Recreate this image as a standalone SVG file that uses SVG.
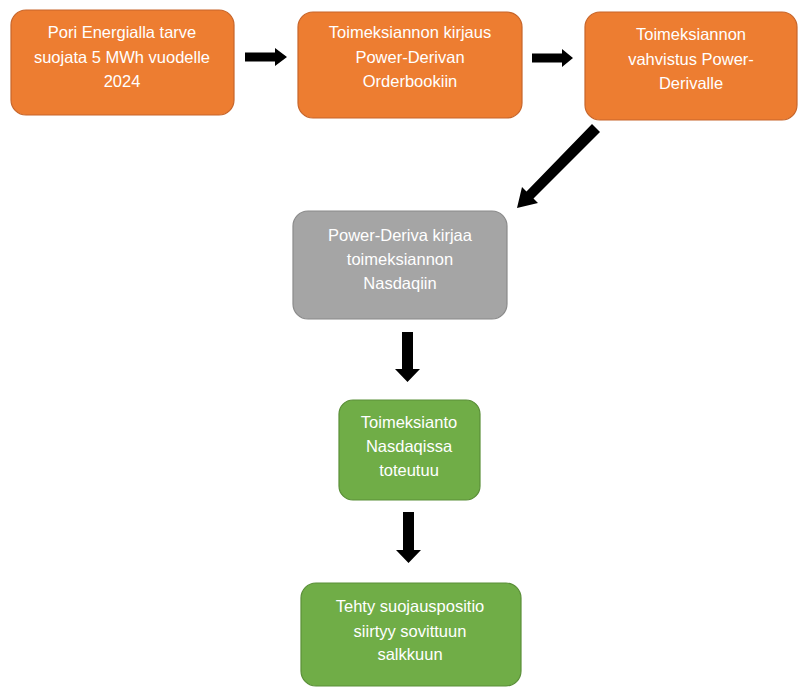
<svg xmlns="http://www.w3.org/2000/svg" width="799" height="687" viewBox="0 0 799 687">
<style>
.box{stroke-width:1.2}
.or{fill:#ED7D31;stroke:#C7652A}
.gr{fill:#A5A5A5;stroke:#8A8A8A}
.gn{fill:#70AD47;stroke:#5A8F38}
.t{font-family:"Liberation Sans",Arial,sans-serif;font-size:16.5px;fill:#FFFFFF;text-anchor:middle}
.arr{fill:#000000}
</style>
<rect width="799" height="687" fill="#FFFFFF"/>
<g id="connectors">
<polygon class="arr" points="245,52.5 275,52.5 275,48 287,57 275,66 275,61.5 245,61.5"/>
<polygon class="arr" points="532,53.5 562,53.5 562,49 573,58 562,67 562,62.5 532,62.5"/>
<polygon class="arr" points="592,124 600,132 533.5,198.5 538,203 517,208 522,187 526.5,191.5"/>
<polygon class="arr" points="402,332 413,332 413,369 420,369 407.5,382 395,369 402,369"/>
<polygon class="arr" points="403,512 414,512 414,550 421,550 408.5,563 396,550 403,550"/>
</g>
<g id="n1">
<rect class="box or" x="11" y="10" width="223" height="105" rx="15"/>
<text class="t" x="122" y="38">Pori Energialla tarve</text>
<text class="t" x="122" y="62.5">suojata 5 MWh vuodelle</text>
<text class="t" x="122" y="87">2024</text>
</g>
<g id="n2">
<rect class="box or" x="298" y="12" width="224" height="106" rx="15"/>
<text class="t" x="410" y="38">Toimeksiannon kirjaus</text>
<text class="t" x="410" y="62.5">Power-Derivan</text>
<text class="t" x="410" y="87">Orderbookiin</text>
</g>
<g id="n3">
<rect class="box or" x="585" y="12" width="212" height="108" rx="15"/>
<text class="t" x="691" y="40">Toimeksiannon</text>
<text class="t" x="691" y="64.5">vahvistus Power-</text>
<text class="t" x="691" y="88.5">Derivalle</text>
</g>
<g id="n4">
<rect class="box gr" x="293" y="211" width="214" height="108" rx="15"/>
<text class="t" x="400" y="241">Power-Deriva kirjaa</text>
<text class="t" x="400" y="265">toimeksiannon</text>
<text class="t" x="400" y="288.5">Nasdaqiin</text>
</g>
<g id="n5">
<rect class="box gn" x="339" y="400" width="141" height="100" rx="14"/>
<text class="t" x="409" y="428">Toimeksianto</text>
<text class="t" x="409" y="452">Nasdaqissa</text>
<text class="t" x="409" y="475.5">toteutuu</text>
</g>
<g id="n6">
<rect class="box gn" x="301" y="583" width="220" height="103" rx="15"/>
<text class="t" x="410" y="612">Tehty suojauspositio</text>
<text class="t" x="410" y="636.5">siirtyy sovittuun</text>
<text class="t" x="410" y="660">salkkuun</text>
</g>
</svg>
